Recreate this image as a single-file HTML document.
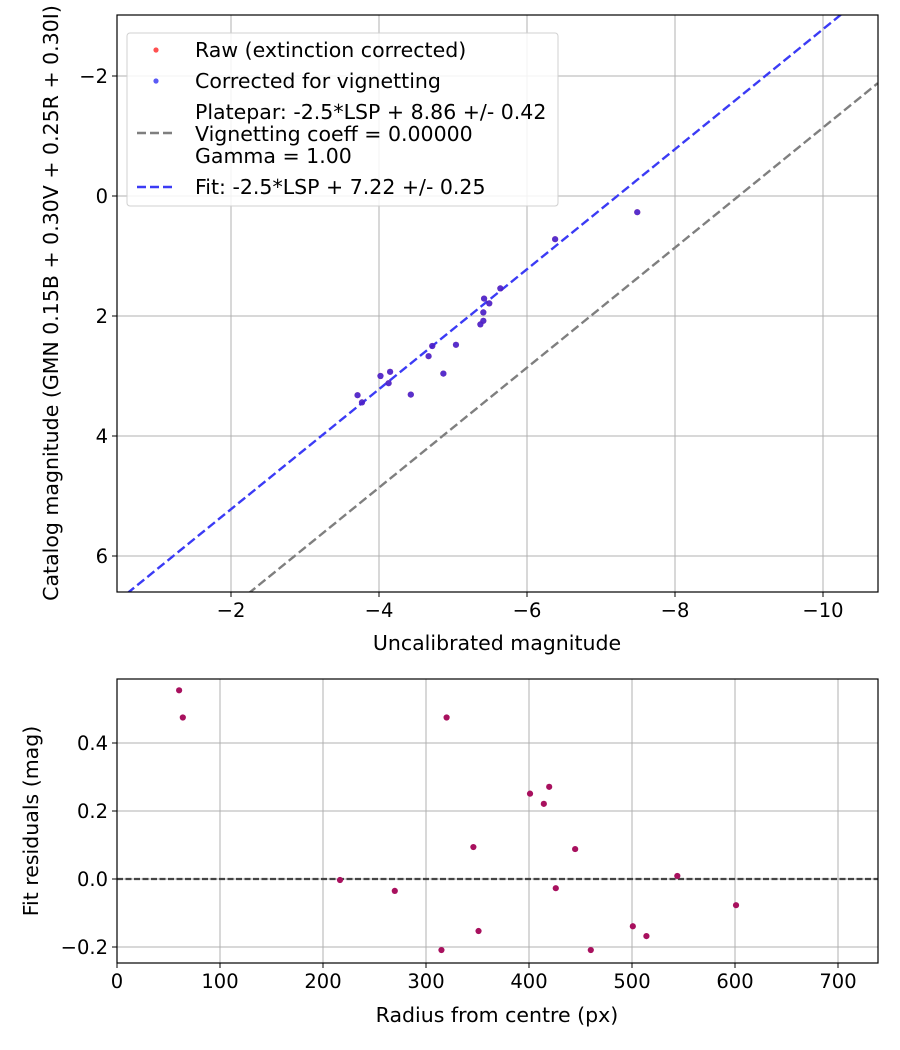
<!DOCTYPE html>
<html><head><meta charset="utf-8"><style>
body{margin:0;background:#fff}
svg{display:block;font-family:"DejaVu Sans","Liberation Sans",sans-serif}
</style></head><body>
<svg id="fig" width="900" height="1050" viewBox="0 0 900 1050"></svg>
<script>
const uncalMag=[-7.49,-6.38,-5.64,-5.42,-5.49,-5.41,-5.41,-5.37,-4.72,-5.04,-4.67,-4.87,-4.15,-4.02,-4.13,-4.43,-3.71,-3.77];
const catMag=[0.27,0.72,1.54,1.71,1.79,1.94,2.08,2.14,2.5,2.48,2.67,2.96,2.93,3.0,3.12,3.31,3.32,3.44];
const radius=[60.3,63.9,320,216.5,269.7,315,346,351,401,419.6,414.4,426,444.8,460,500.8,514,544,601];
const resid=[0.555,0.475,0.475,-0.003,-0.035,-0.209,0.094,-0.153,0.251,0.271,0.221,-0.027,0.088,-0.209,-0.139,-0.168,0.009,-0.077];
const platepar=8.86, fitZP=7.22;
const topXTicks=[-2,-4,-6,-8,-10], topYTicks=[-2,0,2,4,6];
const botXTicks=[0,100,200,300,400,500,600,700], botYTicks=[-0.2,0.0,0.2,0.4];
const topXLabels=["\u22122","\u22124","\u22126","\u22128","\u221210"], topYLabels=["\u22122","0","2","4","6"];
const botYLabels=["\u22120.2","0.0","0.2","0.4"];

const S=document.getElementById('fig'), NS='http://www.w3.org/2000/svg';
function el(t,a,txt){const e=document.createElementNS(NS,t);for(const k in a)e.setAttribute(k,a[k]);if(txt!=null)e.textContent=txt;S.appendChild(e);return e;}
const FT=19.5, FL=20.5;

const T={l:117,r:878,t:15,b:592};
const tx=v=>83-74*v, ty=v=>196+60*v;
const B={l:117,r:878,t:679,b:963};
const bx=v=>117+1.03*v, by=v=>879-340*v;

let g;
topXTicks.forEach((v,i)=>{const x=tx(v);
 g=el('line',{x1:x,x2:x,y1:T.t,y2:T.b,stroke:'#b0b0b0','stroke-width':1});
 
 g=el('line',{x1:x,x2:x,y1:T.b,y2:T.b+5,stroke:'#000'});
 
 g=el('text',{x:x,y:T.b+25,'text-anchor':'middle','font-size':FT},topXLabels[i]);
 });
topYTicks.forEach((v,i)=>{const y=ty(v);
 g=el('line',{x1:T.l,x2:T.r,y1:y,y2:y,stroke:'#b0b0b0','stroke-width':1});
 
 g=el('line',{x1:T.l-5,x2:T.l,y1:y,y2:y,stroke:'#000'});
 
 g=el('text',{x:T.l-9,y:y+7,'text-anchor':'end','font-size':FT},topYLabels[i]);
 });

const defs=el('defs',{});
const cp=document.createElementNS(NS,'clipPath');cp.setAttribute('id','ct');
const cr=document.createElementNS(NS,'rect');cr.setAttribute('x',T.l);cr.setAttribute('y',T.t);cr.setAttribute('width',T.r-T.l);cr.setAttribute('height',T.b-T.t);
cp.appendChild(cr);defs.appendChild(cp);

const xa=-0.46,xb=-10.74;
g=el('line',{x1:tx(xa),y1:ty(xa+platepar),x2:tx(xb),y2:ty(xb+platepar),stroke:'#7f7f7f','stroke-width':2.4,'stroke-dasharray':'9,4','clip-path':'url(#ct)'});

g=el('line',{x1:tx(xa),y1:ty(xa+fitZP),x2:tx(xb),y2:ty(xb+fitZP),stroke:'#3b3bf5','stroke-width':2.4,'stroke-dasharray':'9,4','clip-path':'url(#ct)'});


uncalMag.forEach((v,i)=>{
 g=el('circle',{cx:tx(v),cy:ty(catMag[i]),r:3.1,fill:'#ff2020','fill-opacity':0.7});
 
 g=el('circle',{cx:tx(v),cy:ty(catMag[i]),r:3.1,fill:'#2020f0','fill-opacity':0.75});
 });

g=el('rect',{x:T.l,y:T.t,width:T.r-T.l,height:T.b-T.t,fill:'none',stroke:'#000','stroke-width':1.2});


g=el('rect',{x:127,y:33,width:431,height:173,rx:3,fill:'#fff','fill-opacity':0.85,stroke:'#d0d0d0'});

g=el('circle',{cx:156,cy:50,r:2.6,fill:'#ff5050'});
g=el('circle',{cx:156,cy:81,r:2.6,fill:'#5a5af5'});
g=el('line',{x1:137,x2:175,y1:133,y2:133,stroke:'#7f7f7f','stroke-width':2.4,'stroke-dasharray':'9,4'});
g=el('line',{x1:137,x2:175,y1:187,y2:187,stroke:'#3b3bf5','stroke-width':2.4,'stroke-dasharray':'9,4'});
[["Raw (extinction corrected)",57],["Corrected for vignetting",88],["Platepar: -2.5*LSP + 8.86 +/- 0.42",119],["Vignetting coeff = 0.00000",141],["Gamma = 1.00",163],["Fit: -2.5*LSP + 7.22 +/- 0.25",194]].forEach(d=>{
 g=el('text',{x:195,y:d[1],'font-size':FL},d[0]);});

g=el('text',{x:497,y:650,'text-anchor':'middle','font-size':FL},'Uncalibrated magnitude');

g=el('text',{x:0,y:0,'text-anchor':'middle','font-size':FL,transform:'translate(58,303) rotate(-90)'},'Catalog magnitude (GMN 0.15B + 0.30V + 0.25R + 0.30I)');


botXTicks.forEach(v=>{const x=bx(v);
 g=el('line',{x1:x,x2:x,y1:B.t,y2:B.b,stroke:'#b0b0b0','stroke-width':1});
 
 g=el('line',{x1:x,x2:x,y1:B.b,y2:B.b+5,stroke:'#000'});
 
 g=el('text',{x:x,y:B.b+25,'text-anchor':'middle','font-size':FT},String(v));
 });
botYTicks.forEach((v,i)=>{const y=by(v);
 g=el('line',{x1:B.l,x2:B.r,y1:y,y2:y,stroke:'#b0b0b0','stroke-width':1});
 
 g=el('line',{x1:B.l-5,x2:B.l,y1:y,y2:y,stroke:'#000'});
 
 g=el('text',{x:B.l-9,y:y+7,'text-anchor':'end','font-size':FT},botYLabels[i]);
 });
g=el('line',{x1:B.l,x2:B.r,y1:by(0),y2:by(0),stroke:'#444','stroke-width':2.2,'stroke-dasharray':'6,2.5'});

radius.forEach((v,i)=>{
 g=el('circle',{cx:bx(v),cy:by(resid[i]),r:3.1,fill:'#a8105e'});
 });
g=el('rect',{x:B.l,y:B.t,width:B.r-B.l,height:B.b-B.t,fill:'none',stroke:'#000','stroke-width':1.2});

g=el('text',{x:497,y:1022,'text-anchor':'middle','font-size':FL},'Radius from centre (px)');

g=el('text',{x:0,y:0,'text-anchor':'middle','font-size':FL,transform:'translate(38,821) rotate(-90)'},'Fit residuals (mag)');

</script>
</body></html>
